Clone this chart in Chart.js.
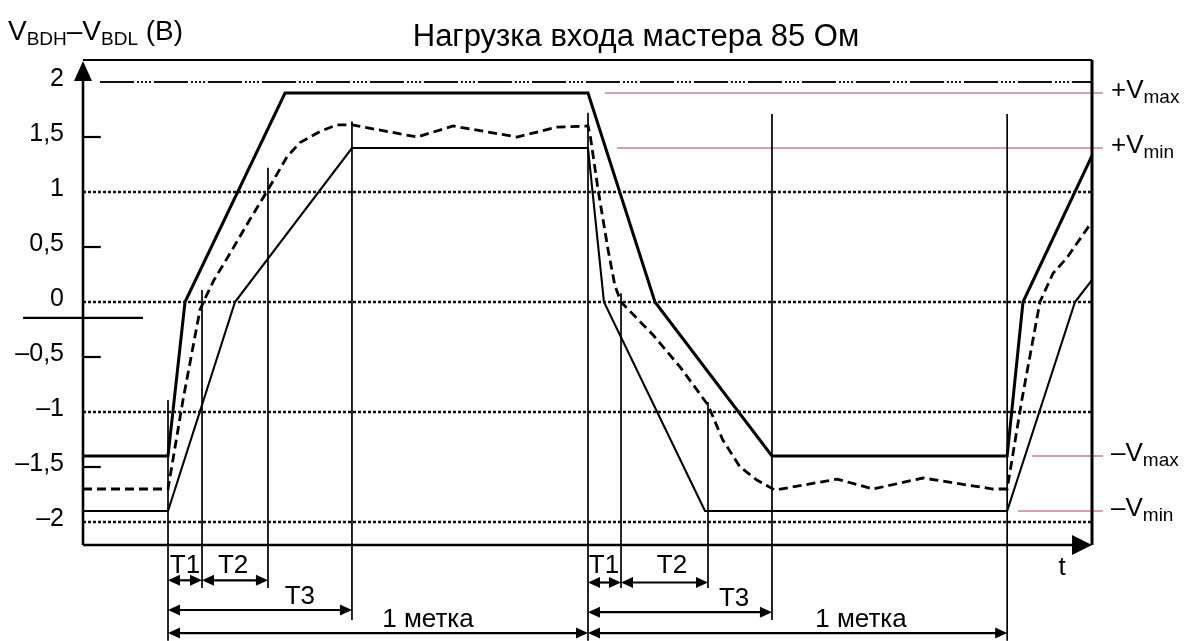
<!DOCTYPE html>
<html lang="ru">
<head>
<meta charset="UTF-8">
<title>Нагрузка входа мастера 85 Ом</title>
<script src="https://cdn.jsdelivr.net/npm/chart.js"></script>
<style>
  body { margin: 0; background: #fff; }
  #wrap { width: 1185px; height: 641px; }
</style>
</head>
<body>
<div id="wrap"><canvas id="sig" width="1185" height="641"></canvas></div>
<script>
  // time axis: 1 unit = one "метка"
  const T_MIN = -0.2024, T_MAX = 2.2;
  const V_MIN = -2.209, V_MAX = 2.2;

  const yTicks = [2, 1.5, 1, 0.5, 0, -0.5, -1, -1.5, -2];
  const gridLevels = [1, 0, -1, -2];
  const minorTicks = [1.5, 0.5, -0.5, -1.5];

  // upper envelope (thick line)
  const upperT = [-0.2024, 0, 0.0405, 0.2786, 1.0, 1.1595, 1.438, 1.998, 2.0357, 2.2];
  const upperV = [-1.4, -1.4, 0, 1.9, 1.9, 0, -1.4, -1.4, 0, 1.33];

  // typical signal (dashed)
  const typT = [-0.2024, 0, 0.0357, 0.0762, 0.0905, 0.1095, 0.152, 0.195, 0.238, 0.2833, 0.3143, 0.3619, 0.402,
    0.438, 0.593, 0.679, 0.831, 0.926, 1.0, 1.005, 1.024, 1.048, 1.064, 1.0786, 1.155, 1.219, 1.2857, 1.321,
    1.362, 1.402, 1.445, 1.593, 1.679, 1.798, 1.964, 1.998, 2.033, 2.076, 2.107, 2.14, 2.2];
  const typV = [-1.7, -1.7, -0.89, -0.07, 0.05, 0.2, 0.47, 0.75, 1.02, 1.32, 1.45, 1.55, 1.61,
    1.61, 1.5, 1.6, 1.5, 1.59, 1.6, 1.52, 1.02, 0.47, 0.15, 0, -0.3, -0.59, -0.936, -1.255,
    -1.5, -1.618, -1.71, -1.61, -1.7, -1.6, -1.7, -1.7, -0.89, 0, 0.26, 0.4, 0.73];

  // lower envelope (thin line)
  const lowerT = [-0.2024, 0, 0.1595, 0.438, 1.0, 1.038, 1.2786, 1.998, 2.1595, 2.2];
  const lowerV = [-1.9, -1.9, 0, 1.4, 1.4, 0, -1.9, -1.9, 0, 0.2];

  // vertical timing markers: time, top, bottom
  const markT = [0, 0.081, 0.238, 0.438, 1.0, 1.0786, 1.2857, 1.438, 1.998];
  const markTop = [-0.89, 0.11, 1.22, 1.64, 1.72, 0.08, -0.91, 1.71, 1.71];
  const markBottom = [-3.08, -2.6, -2.6, -2.89, -3.08, -2.6, -2.6, -2.89, -3.08];

  // dimension arrows below the axis
  const spanFrom = [0, 0.081, 0, 0, 1.0, 1.0786, 1.0, 1.0];
  const spanTo = [0.081, 0.238, 0.438, 1.0, 1.0786, 1.2857, 1.438, 1.998];
  const spanRow = [-2.53, -2.53, -2.8, -3.01, -2.55, -2.55, -2.82, -3.01];
  const spanText = ['T1', 'T2', 'T3', '1 метка', 'T1', 'T2', 'T3', '1 метка'];
  const spanTextT = [0.0405, 0.155, 0.314, 0.619, 1.038, 1.2, 1.348, 1.65];
  const spanTextV = [-2.4, -2.4, -2.68, -2.89, -2.4, -2.4, -2.7, -2.89];

  // reference levels on the right
  const refLevels = [1.9, 1.4, -1.4, -1.9];
  const refStart = [1.04, 1.069, 2.057, 2.024];
  const refEnd = 2.226;
  const refSign = ['+V', '+V', '\u2013V', '\u2013V'];
  const refSub = ['max', 'min', 'max', 'min'];

  const FONT = '"Liberation Sans", Arial, sans-serif';
  const INK = '#000';

  const pts = (ts, vs) => ts.map((t, i) => ({ x: t, y: vs[i] }));
  const seg = (x0, y0, x1, y1) => [{ x: x0, y: y0 }, { x: x1, y: y1 }];

  const datasets = [];

  // grid lines
  gridLevels.forEach(v => {
    datasets.push({ data: seg(T_MIN, v, T_MAX, v), borderColor: '#111', borderWidth: 2.4, borderDash: [3, 2] });
  });
  datasets.push({ data: seg(-0.162, 2, T_MAX, 2), borderColor: '#111', borderWidth: 1.8,
    borderDash: [34, 3, 2, 2, 2, 2, 2, 2, 2, 3] });
  minorTicks.forEach(v => {
    datasets.push({ data: seg(T_MIN, v, -0.16, v), borderColor: INK, borderWidth: 2.2 });
  });

  // markers
  markT.forEach((t, i) => {
    datasets.push({ data: seg(t, markTop[i], t, markBottom[i]), borderColor: INK, borderWidth: 1.7, clip: false });
  });

  // reference lines (red)
  refLevels.forEach((v, i) => {
    datasets.push({ data: seg(refStart[i], v, refEnd, v), borderColor: '#b0404e', borderWidth: 1, clip: false });
  });

  // stray line left of the axis
  datasets.push({ data: seg(-0.345, -0.145, -0.0595, -0.145), borderColor: INK, borderWidth: 2.2, clip: false });

  // signals
  datasets.push({ data: pts(lowerT, lowerV), borderColor: INK, borderWidth: 2.1 });
  datasets.push({ data: pts(typT, typV), borderColor: INK, borderWidth: 2.8, borderDash: [9, 5] });
  datasets.push({ data: pts(upperT, upperV), borderColor: INK, borderWidth: 3 });

  datasets.forEach(d => {
    d.showLine = true;
    d.pointRadius = 0;
    d.fill = false;
    d.tension = 0;
  });

  function arrowHead(ctx, x, y, dir, len, half) {
    ctx.beginPath();
    if (dir === 'r') { ctx.moveTo(x, y); ctx.lineTo(x - len, y - half); ctx.lineTo(x - len, y + half); }
    if (dir === 'l') { ctx.moveTo(x, y); ctx.lineTo(x + len, y - half); ctx.lineTo(x + len, y + half); }
    if (dir === 'u') { ctx.moveTo(x, y); ctx.lineTo(x - half, y + len); ctx.lineTo(x + half, y + len); }
    ctx.closePath();
    ctx.fill();
  }

  function line(ctx, x0, y0, x1, y1) {
    ctx.beginPath();
    ctx.moveTo(x0, y0);
    ctx.lineTo(x1, y1);
    ctx.stroke();
  }

  // text with subscript parts: [[text, isSub], ...]
  function subText(ctx, x, y, parts, size, subSize) {
    let cx = x;
    ctx.textAlign = 'left';
    ctx.textBaseline = 'alphabetic';
    parts.forEach(([s, sub]) => {
      ctx.font = (sub ? subSize : size) + 'px ' + FONT;
      ctx.fillText(s, cx, sub ? y + 5 : y);
      cx += ctx.measureText(s).width;
    });
  }

  const decor = {
    id: 'decor',
    afterDatasetsDraw(chart) {
      const { ctx, chartArea: a, scales: { x, y } } = chart;
      ctx.save();
      ctx.strokeStyle = INK;
      ctx.fillStyle = INK;

      // frame
      ctx.lineWidth = 2;
      line(ctx, a.left, a.top, a.right, a.top);
      ctx.lineWidth = 3;
      line(ctx, a.right, a.top, a.right, a.bottom);
      ctx.lineWidth = 2.6;
      line(ctx, a.left, a.bottom, a.right - 16, a.bottom);
      arrowHead(ctx, a.right, a.bottom, 'r', 20, 10);
      line(ctx, a.left, a.bottom, a.left, a.top + 16);
      arrowHead(ctx, a.left, a.top + 1, 'u', 20, 9);

      // dimension arrows
      ctx.lineWidth = 2.2;
      spanFrom.forEach((t0, i) => {
        const x0 = x.getPixelForValue(t0), x1 = x.getPixelForValue(spanTo[i]);
        const yy = y.getPixelForValue(spanRow[i]);
        line(ctx, x0 + 4, yy, x1 - 4, yy);
        arrowHead(ctx, x0, yy, 'l', 12, 5.5);
        arrowHead(ctx, x1, yy, 'r', 12, 5.5);
        ctx.font = '26px ' + FONT;
        ctx.textAlign = 'center';
        ctx.textBaseline = 'middle';
        ctx.fillText(spanText[i], x.getPixelForValue(spanTextT[i]), y.getPixelForValue(spanTextV[i]));
      });

      // right labels
      refLevels.forEach((v, i) => {
        const yy = y.getPixelForValue(v);
        subText(ctx, 1111, yy + 5, [[refSign[i], false], [refSub[i], true]], 26, 19);
      });

      // titles
      ctx.textBaseline = 'alphabetic';
      ctx.textAlign = 'center';
      ctx.font = '31px ' + FONT;
      ctx.fillText('Нагрузка входа мастера 85 Ом', 636, 46);
      subText(ctx, 8, 40, [['V', false], ['BDH', true], ['\u2013V', false], ['BDL', true], [' (В)', false]], 28, 19);

      ctx.font = '26px ' + FONT;
      ctx.textAlign = 'center';
      ctx.fillText('t', 1062, 575);
      ctx.restore();
    }
  };

  const fmtTick = v => (v < 0 ? '\u2013' : '') + String(Math.abs(v)).replace('.', ',');

  new Chart(document.getElementById('sig'), {
    type: 'scatter',
    data: { datasets },
    options: {
      responsive: false,
      animation: false,
      events: [],
      layout: { padding: { left: 0, top: 60, right: 93, bottom: 96 } },
      plugins: { legend: { display: false }, tooltip: { enabled: false }, title: { display: false } },
      scales: {
        x: { type: 'linear', min: T_MIN, max: T_MAX, display: false },
        y: {
          type: 'linear', min: V_MIN, max: V_MAX,
          grid: { display: false },
          border: { display: false },
          afterFit: s => { s.width = 83; },
          afterBuildTicks: s => { s.ticks = yTicks.map(v => ({ value: v })); },
          ticks: {
            callback: v => fmtTick(v),
            padding: 11,
            labelOffset: -3,
            color: INK,
            font: { family: FONT, size: 25 }
          }
        }
      }
    },
    plugins: [decor]
  });
</script>
</body>
</html>
